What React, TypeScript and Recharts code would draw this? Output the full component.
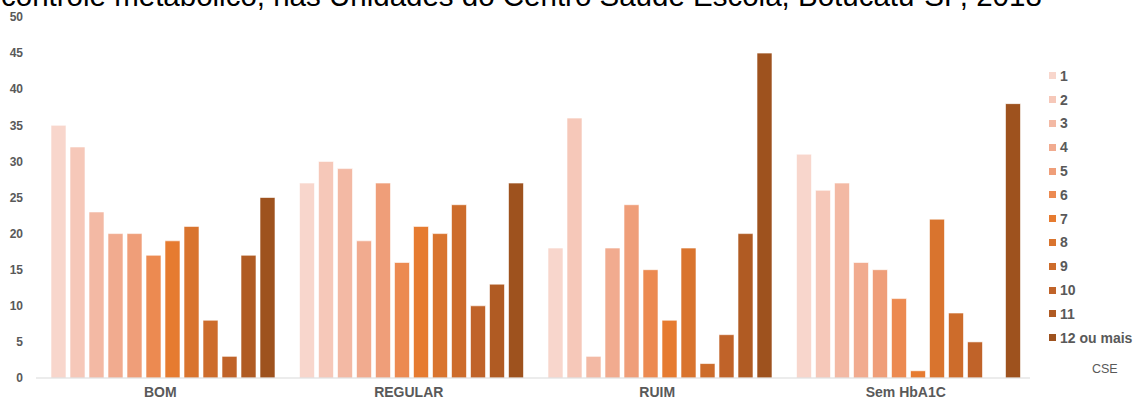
import React from 'react';
import { Bar, BarChart, XAxis, YAxis } from 'recharts';

// Categories of metabolic control, one group of bars each.
const CATEGORIES = ['BOM', 'REGULAR', 'RUIM', 'Sem HbA1C'];

// One series per bucket, in legend order.
const SERIES_LABELS = ['1', '2', '3', '4', '5', '6', '7', '8', '9', '10', '11', '12 ou mais'];

// Counts per series, in CATEGORIES order.
const S1 = [35, 27, 18, 31];
const S2 = [32, 30, 36, 26];
const S3 = [23, 29, 3, 27];
const S4 = [20, 19, 18, 16];
const S5 = [20, 27, 24, 15];
const S6 = [17, 16, 15, 11];
const S7 = [19, 21, 8, 1];
const S8 = [21, 20, 18, 22];
const S9 = [8, 24, 2, 9];
const S10 = [3, 10, 6, 5];
const S11 = [17, 13, 20, 0];
const S12 = [25, 27, 45, 38];

const SERIES_VALUES = [S1, S2, S3, S4, S5, S6, S7, S8, S9, S10, S11, S12];

const Y_TICKS = [0, 5, 10, 15, 20, 25, 30, 35, 40, 45, 50];

const COLORS = [
  '#F8D6CC',
  '#F6C8B9',
  '#F3B9A4',
  '#F1AB8F',
  '#EF9E79',
  '#EC8A51',
  '#E67B30',
  '#D9742E',
  '#CD6C2B',
  '#C06329',
  '#B05B23',
  '#9E521E',
];

const TITLE = 'controle metabólico, nas Unidades do Centro Saúde Escola, Botucatu-SP, 2018';
const FOOTNOTE = 'CSE';

const FONT = '"Liberation Sans", Arial, sans-serif';

const data = CATEGORIES.map((cat, i) => {
  const row: Record<string, number | string> = { category: cat };
  SERIES_LABELS.forEach((label, s) => {
    row[label] = SERIES_VALUES[s][i];
  });
  return row;
});

// Legend drawn beside the plot so it doesn't shrink the plot area.
function LegendList() {
  return (
    <div style={{ position: 'absolute', left: 1049, top: 64, fontFamily: FONT }}>
      {SERIES_LABELS.map((label, i) => (
        <div
          key={label}
          style={{ display: 'flex', alignItems: 'center', height: 23.8 }}
        >
          <span
            style={{
              display: 'inline-block',
              width: 7,
              height: 7,
              background: COLORS[i],
              marginRight: 4,
            }}
          />
          <span style={{ fontSize: 14, fontWeight: 700, color: '#595959' }}>{label}</span>
        </div>
      ))}
    </div>
  );
}

export default function App() {
  return (
    <div
      style={{
        position: 'fixed',
        left: 0,
        top: 0,
        width: 1138,
        height: 403,
        background: '#fff',
        overflow: 'hidden',
        fontFamily: FONT,
      }}
    >
      <div
        style={{
          position: 'absolute',
          left: 1,
          top: -20,
          fontSize: 29.5,
          lineHeight: '32px',
          color: '#000',
          whiteSpace: 'nowrap',
        }}
      >
        {TITLE}
      </div>
      <div
        style={{
          position: 'absolute',
          left: 1092,
          top: 362,
          fontSize: 12.5,
          color: '#595959',
        }}
      >
        {FOOTNOTE}
      </div>
      <LegendList />
      <div style={{ position: 'absolute', left: 0, top: 0 }}>
        <BarChart
          width={1138}
          height={403}
          data={data}
          margin={{ top: 17, right: 108, bottom: 0, left: 0 }}
          barCategoryGap={15}
          barGap={4}
        >
          <XAxis
            dataKey="category"
            height={25}
            tickLine={false}
            axisLine={{ stroke: '#D9D9D9' }}
            tick={{ fontSize: 14, fontWeight: 700, fill: '#595959', fontFamily: FONT }}
            tickMargin={3}
          />
          <YAxis
            width={36}
            domain={[0, 50]}
            ticks={Y_TICKS}
            interval={0}
            axisLine={false}
            tickLine={false}
            tickMargin={7}
            tick={{ fontSize: 12, fontWeight: 700, fill: '#595959', fontFamily: FONT }}
          />
          {SERIES_LABELS.map((label, i) => (
            <Bar
              key={label}
              dataKey={label}
              fill={COLORS[i]}
              stroke="#ffffff"
              strokeWidth={0.6}
              isAnimationActive={false}
            />
          ))}
        </BarChart>
      </div>
    </div>
  );
}
